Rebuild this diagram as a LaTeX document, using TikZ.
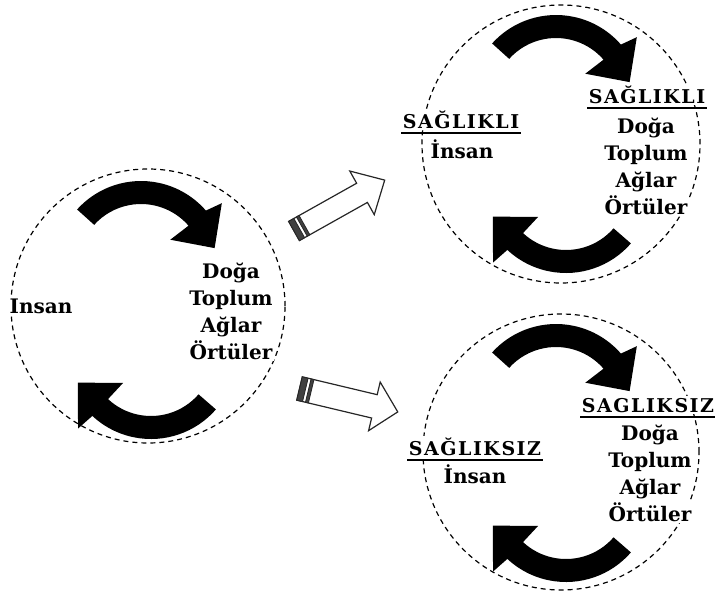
\documentclass[tikz,border=0pt]{standalone}
\usepackage{fontspec}
\setmainfont{DejaVu Serif}
\newfontfamily\labfont{DejaVu Serif}[LetterSpace=8]
\begin{document}
\begin{tikzpicture}[x=1pt,y=-1pt,
  ring/.style={circle, draw=black, line width=1.2pt, dash pattern=on 5pt off 4pt, minimum size=#1, inner sep=0pt},
  word/.style={anchor=base, fill=white, inner sep=1.5pt, font=\fontsize{20}{24}\selectfont\bfseries},
  lab/.style={anchor=base, fill=white, inner sep=1.5pt, font=\fontsize{19}{24}\selectfont\labfont\bfseries},
  ulin/.style={line width=2pt},
  bigarrow/.style={fill=black},
  hollow/.style={fill=white, draw=black!85, line width=1.2pt, line join=miter},
  capband/.style={fill=black!75, draw=black!85, line width=0.8pt}]
\useasboundingbox (0,0) rectangle (715,595);

% circles
\node[ring=274pt] (Lc) at (148,306) {};
\node[ring=278pt] (Tc) at (561,144) {};
\node[ring=276pt] (Bc) at (561,452) {};

% ---------- left circle texts
\node[word] (Linsan) at (41,313) {Insan};
\node[word] (Ldoga) at (231,278) {Doğa};
\node[word] (Ltoplum) at (231,305) {Toplum};
\node[word] (Laglar) at (231,332) {Ağlar};
\node[word] (Lortuler) at (231,359) {Örtüler};

% ---------- top right texts
\node[lab] (Tlab1) at (461,128) {SAĞLIKLI};
\draw[ulin] ([yshift=-5pt]Tlab1.base west) -- ([yshift=-5pt]Tlab1.base east);
\node[word] (Tinsan) at (462,158) {İnsan};
\node[lab] (Tlab2) at (647,103) {SAĞLIKLI};
\draw[ulin] ([yshift=-5pt]Tlab2.base west) -- ([yshift=-5pt]Tlab2.base east);
\node[word] (Tdoga) at (646,133) {Doğa};
\node[word] (Ttoplum) at (646,160) {Toplum};
\node[word] (Taglar) at (646,187) {Ağlar};
\node[word] (Tortuler) at (646,214) {Örtüler};

% ---------- bottom right texts
\node[lab] (Blab1) at (475,455) {SAĞLIKSIZ};
\draw[ulin] ([yshift=-5pt]Blab1.base west) -- ([yshift=-5pt]Blab1.base east);
\node[word] (Binsan) at (475,483) {İnsan};
\node[lab] (Blab2) at (648,412) {SAGLIKSIZ};
\draw[ulin] ([yshift=-5pt]Blab2.base west) -- ([yshift=-5pt]Blab2.base east);
\node[word] (Bdoga) at (650,440) {Doğa};
\node[word] (Btoplum) at (650,467) {Toplum};
\node[word] (Baglar) at (650,494) {Ağlar};
\node[word] (Bortuler) at (650,521) {Örtüler};

% ---------- black curved arrows (three copies)
\foreach \dx/\dy in {0/0, 415/-166, 415/143}{
  \begin{scope}[shift={(141+\dx,267+\dy)}, yscale=-1]
    \fill[bigarrow] (138:86) arc[start angle=138, end angle=41, radius=86]
      -- (38.3:103) -- (14.4:76) -- (43:40) -- (41:63)
      arc[start angle=41, end angle=138, radius=63] -- cycle;
  \end{scope}
  \begin{scope}[shift={(151+\dx,353+\dy)}, yscale=-1, rotate=180]
    \fill[bigarrow] (139:86) arc[start angle=139, end angle=47, radius=86]
      -- (46:105) -- (22:79) -- (47:41) -- (47:63)
      arc[start angle=47, end angle=139, radius=63] -- cycle;
  \end{scope}
}

% ---------- hollow block arrows
\begin{scope}[shift={(294,231)}, yscale=-1, rotate=-29.3]
  \draw[hollow] (0,-11) -- (78,-11) -- (78,-25) -- (104,0) -- (78,25) -- (78,11) -- (0,11) -- cycle;
  \filldraw[capband] (0,-11) rectangle (6,11);
  \filldraw[capband] (9,-11) rectangle (12,11);
\end{scope}
\begin{scope}[shift={(299.5,388.5)}, yscale=-1, rotate=13.4]
  \draw[hollow] (0,-12) -- (77,-12) -- (77,-25) -- (101,0) -- (77,25) -- (77,12) -- (0,12) -- cycle;
  \filldraw[capband] (0,-12) rectangle (6,12);
  \filldraw[capband] (9,-12) rectangle (12,12);
\end{scope}
\end{tikzpicture}
\end{document}
